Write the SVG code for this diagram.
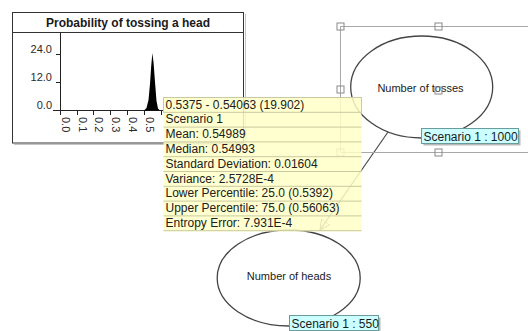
<svg xmlns="http://www.w3.org/2000/svg" width="528" height="331" viewBox="0 0 528 331">
  <defs>
    <style>
      text { font-family: "Liberation Sans", Arial, sans-serif; fill: #1a1a1a; }
      .title { font-size: 12px; font-weight: bold; }
      .axis { font-size: 11px; fill: #2a2a2a; }
      .axisline { stroke: #222; stroke-width: 1; fill: none; }
      .node { fill: #ffffff; stroke: #444; stroke-width: 1.3; }
      .nodetext { font-size: 11px; text-anchor: middle; }
      .badge { fill: #ccffff; stroke: #6a9c9c; stroke-width: 1; }
      .badgeshadow { fill: #b8b8b8; }
      .badgetext { font-size: 12px; }
      .sel { stroke: #a8a8a8; stroke-width: 1; fill: none; }
      .handle { stroke: #8a8a8a; stroke-width: 1; fill: none; }
      .edge { stroke: #4a4a4a; stroke-width: 1.2; fill: none; }
      .tip { fill: #ffffc6; fill-opacity: 0.84; }
      .tiprow { fill: none; stroke: #c9c9a2; stroke-width: 1; }
      .tiptext { font-size: 12px; fill: #202020; }
    </style>
    <marker id="arrow" markerWidth="12" markerHeight="12" refX="10" refY="5" orient="auto" markerUnits="userSpaceOnUse">
      <path d="M0,0 L10,5 L0,10 Z" fill="none" stroke="#4a4a4a" stroke-width="1"/>
    </marker>
  </defs>

  <rect width="528" height="331" fill="#ffffff"/>

  <!-- Histogram panel -->
  <g id="chart">
    <line x1="14" y1="144.5" x2="245.5" y2="144.5" stroke="#c4c4c4"/>
    <line x1="245.5" y1="14" x2="245.5" y2="144.5" stroke="#c4c4c4"/>
    <rect x="12.5" y="12.5" width="231" height="130.5" fill="#ffffff" stroke="#333" stroke-width="1"/>
    <line x1="12.5" y1="32.5" x2="243.5" y2="32.5" stroke="#333"/>
    <text class="title" x="128" y="26.5" text-anchor="middle">Probability of tossing a head</text>

    <!-- axes -->
    <line class="axisline" x1="60.5" y1="32.5" x2="60.5" y2="110.5"/>
    <line class="axisline" x1="53" y1="110.5" x2="163" y2="110.5"/>
    <line class="axisline" x1="56" y1="54.5" x2="60.5" y2="54.5"/>
    <line class="axisline" x1="56" y1="82.5" x2="60.5" y2="82.5"/>
    <g class="axisline">
      <line x1="60.5" y1="110.5" x2="60.5" y2="115"/>
      <line x1="77.5" y1="110.5" x2="77.5" y2="115"/>
      <line x1="93.5" y1="110.5" x2="93.5" y2="115"/>
      <line x1="110.5" y1="110.5" x2="110.5" y2="115"/>
      <line x1="127.5" y1="110.5" x2="127.5" y2="115"/>
      <line x1="144.5" y1="110.5" x2="144.5" y2="115"/>
      <line x1="161.5" y1="110.5" x2="161.5" y2="115"/>
    </g>
    <text class="axis" x="52" y="52.5" text-anchor="end">24.0</text>
    <text class="axis" x="52" y="81" text-anchor="end">12.0</text>
    <text class="axis" x="52" y="109" text-anchor="end">0.0</text>
    <text class="axis" transform="translate(61.5,117) rotate(90)">0.0</text>
    <text class="axis" transform="translate(78.5,117) rotate(90)">0.1</text>
    <text class="axis" transform="translate(94.5,117) rotate(90)">0.2</text>
    <text class="axis" transform="translate(111.5,117) rotate(90)">0.3</text>
    <text class="axis" transform="translate(128.5,117) rotate(90)">0.4</text>
    <text class="axis" transform="translate(145.5,117) rotate(90)">0.5</text>

    <!-- distribution -->
    <path d="M144,110.5 L146.5,108 L148.5,100 L150,84 L151.2,66 L152.4,53 L153.6,63 L155,82 L156.5,101 L158,108.5 L160,110.5 Z" fill="#000"/>
  </g>

  <!-- Nodes -->
  <g id="node-tosses">
    <ellipse class="node" cx="421.7" cy="87" rx="71" ry="51"/>
    <text class="nodetext" x="420.5" y="91.5">Number of tosses</text>
  </g>
  <g id="node-heads">
    <ellipse class="node" cx="288.7" cy="278" rx="71.5" ry="48"/>
    <text class="nodetext" x="289" y="279.5">Number of heads</text>
  </g>

  <!-- Connectors -->
  <g id="connectors">
    <line class="edge" x1="388" y1="132" x2="320" y2="230" marker-end="url(#arrow)"/>
  </g>

  <!-- Selection frame around the tosses node -->
  <g id="selection">
    <path class="sel" d="M528,26.5 H340.5 V152.5 H528"/>
    <rect class="handle" x="337" y="23" width="7" height="7"/>
    <rect class="handle" x="435" y="23" width="7" height="7"/>
    <rect class="handle" x="337" y="86" width="7" height="7"/>
    <rect class="handle" x="435" y="87" width="7" height="7"/>
    <rect class="handle" x="337" y="149" width="7" height="7"/>
    <rect class="handle" x="435" y="149" width="7" height="7"/>
  </g>

  <!-- Scenario badges -->
  <g id="badge-tosses">
    <rect class="badgeshadow" x="423.5" y="130.5" width="97" height="15"/>
    <rect class="badge" x="421.5" y="128.5" width="97" height="15"/>
    <text class="badgetext" x="423.5" y="140.5">Scenario 1 : 1000</text>
  </g>
  <g id="badge-heads">
    <rect class="badgeshadow" x="291.5" y="317.5" width="89" height="15"/>
    <rect class="badge" x="289.5" y="315.5" width="89" height="15"/>
    <text class="badgetext" x="291.5" y="327.5">Scenario 1 : 550</text>
  </g>

  <!-- Statistics tooltip -->
  <g id="tooltip">
    <rect class="tip" x="163.5" y="97.5" width="198" height="134"/>
    <g class="tiprow">
      <rect x="163.5" y="97.5" width="198" height="14.8"/>
      <line x1="163.5" y1="127.1" x2="361.5" y2="127.1"/>
      <line x1="163.5" y1="141.9" x2="361.5" y2="141.9"/>
      <line x1="163.5" y1="156.7" x2="361.5" y2="156.7"/>
      <line x1="163.5" y1="171.5" x2="361.5" y2="171.5"/>
      <line x1="163.5" y1="186.3" x2="361.5" y2="186.3"/>
      <line x1="163.5" y1="201.1" x2="361.5" y2="201.1"/>
      <line x1="163.5" y1="215.9" x2="361.5" y2="215.9"/>
      <line x1="163.5" y1="230.7" x2="361.5" y2="230.7"/>
    </g>
    <text class="tiptext" x="165.5" y="108.5">0.5375 - 0.54063 (19.902)</text>
    <text class="tiptext" x="165.5" y="123.3">Scenario 1</text>
    <text class="tiptext" x="165.5" y="138.1">Mean: 0.54989</text>
    <text class="tiptext" x="165.5" y="152.9">Median: 0.54993</text>
    <text class="tiptext" x="165.5" y="167.7">Standard Deviation: 0.01604</text>
    <text class="tiptext" x="165.5" y="182.5">Variance: 2.5728E-4</text>
    <text class="tiptext" x="165.5" y="197.3">Lower Percentile: 25.0 (0.5392)</text>
    <text class="tiptext" x="165.5" y="212.1">Upper Percentile: 75.0 (0.56063)</text>
    <text class="tiptext" x="165.5" y="226.9">Entropy Error: 7.931E-4</text>
  </g>
</svg>
